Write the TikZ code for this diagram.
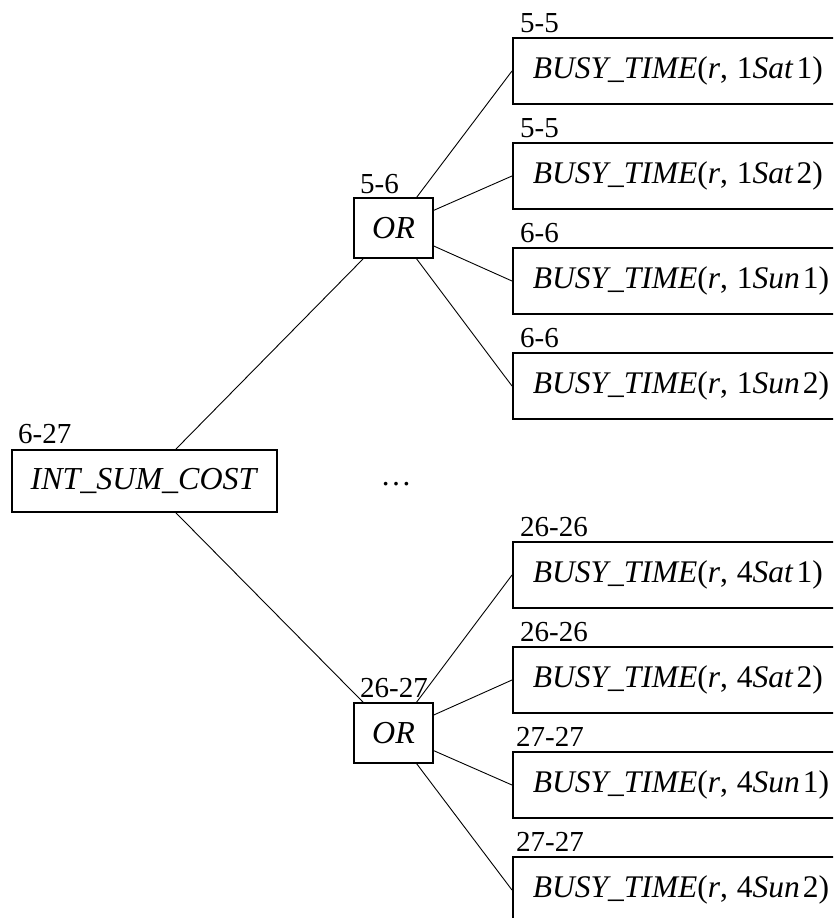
\documentclass[tikz,border=0pt]{standalone}
\usepackage{fontspec}
\setmainfont{Liberation Serif}
\tikzset{
  box/.style={draw, line width=1.7pt, inner sep=0pt, font=\fontsize{32}{36}\selectfont},
  leafbox/.style={draw, line width=1.7pt, anchor=west, inner xsep=20pt, inner ysep=0pt,
     text width=308pt, align=left, minimum height=66pt, font=\fontsize{31.5}{36}\selectfont},
  lbl/.style={anchor=base west, inner sep=0pt, font=\fontsize{29}{32}\selectfont},
  conn/.style={line width=0.9pt}
}
\newcommand{\busy}[3]{\textit{BUSY\_TIME}(\textit{r},\hspace{0.28em}#1\textit{#2}\hspace{0.1em}#3)}
\begin{document}
\begin{tikzpicture}[x=1pt,y=-1pt]
\useasboundingbox (0,0) rectangle (833,918);
\begin{scope}
\clip (0,0) rectangle (833,918);
% root
\node[box, minimum width=265pt, minimum height=62pt] (root) at (144.5,481) {\textit{INT\_SUM\_COST}};
\node[lbl] (lroot) at (18,443) {6-27};
% OR nodes
\node[box, minimum width=79pt, minimum height=60pt] (or1) at (393.5,228) {\textit{OR}};
\node[lbl] (lor1) at (360,193) {5-6};
\node[box, minimum width=79pt, minimum height=60pt] (or2) at (393.5,733) {\textit{OR}};
\node[lbl] (lor2) at (360,697) {26-27};
% ellipsis
\node[anchor=base, inner sep=0pt, font=\fontsize{31}{36}\selectfont] (dots) at (396,485) {\ldots};
% upper leaves
\node[leafbox] (a1) at (512,71) {\busy{1}{Sat}{1}};
\node[leafbox] (a2) at (512,176) {\busy{1}{Sat}{2}};
\node[leafbox] (a3) at (512,281) {\busy{1}{Sun}{1}};
\node[leafbox] (a4) at (512,386) {\busy{1}{Sun}{2}};
\node[lbl] (la1) at (520,32) {5-5};
\node[lbl] (la2) at (520,137) {5-5};
\node[lbl] (la3) at (520,242) {6-6};
\node[lbl] (la4) at (520,347) {6-6};
% lower leaves
\node[leafbox] (b1) at (512,575) {\busy{4}{Sat}{1}};
\node[leafbox] (b2) at (512,680) {\busy{4}{Sat}{2}};
\node[leafbox] (b3) at (512,785) {\busy{4}{Sun}{1}};
\node[leafbox] (b4) at (512,890) {\busy{4}{Sun}{2}};
\node[lbl] (lb1) at (520,536) {26-26};
\node[lbl] (lb2) at (520,641) {26-26};
\node[lbl] (lb3) at (516,746) {27-27};
\node[lbl] (lb4) at (516,851) {27-27};
% connectors
\draw[conn] (root) -- (or1);
\draw[conn] (root) -- (or2);
\foreach \n in {a1,a2,a3,a4} \draw[conn] (or1) -- (\n.west);
\foreach \n in {b1,b2,b3,b4} \draw[conn] (or2) -- (\n.west);
\end{scope}
\end{tikzpicture}
\end{document}
